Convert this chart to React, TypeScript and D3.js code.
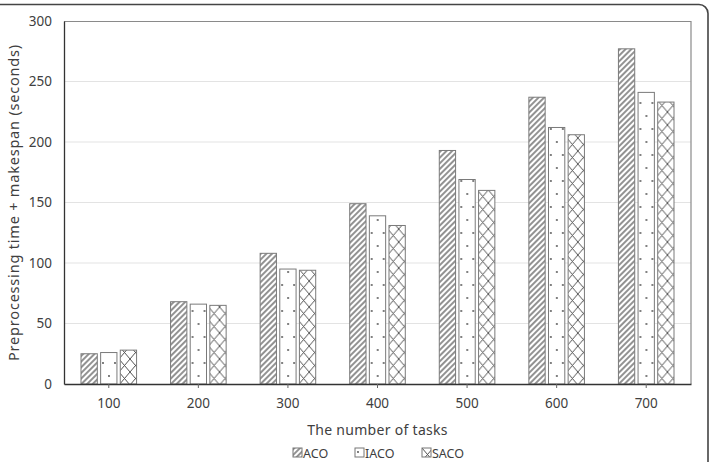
import React, { useEffect, useRef } from "react";
import * as d3 from "d3";

// task counts on the x axis
const categories = ["100", "200", "300", "400", "500", "600", "700"];
const seriesNames = ["ACO", "IACO", "SACO"];
const acoValues = [25, 68, 108, 149, 193, 237, 277];
const iacoValues = [26, 66, 95, 139, 169, 212, 241];
const sacoValues = [28, 65, 94, 131, 160, 206, 233];
const yTicks = [0, 50, 100, 150, 200, 250, 300];

const FONT = "'Noto Sans', 'Open Sans', sans-serif";
const TEXT = "#404040";

const App = () => {
  const ref = useRef<SVGSVGElement>(null);

  useEffect(() => {
    const W = 711;
    const H = 462;
    const margin = { top: 21, right: 20, bottom: 78, left: 64 };
    const width = W - margin.left - margin.right;
    const height = H - margin.top - margin.bottom;

    const svg = d3.select(ref.current);
    svg.selectAll("*").remove();

    // fill patterns for each series
    const defs = svg.append("defs");
    const diag = defs
      .append("pattern")
      .attr("id", "pat-aco")
      .attr("patternUnits", "userSpaceOnUse")
      .attr("width", 4)
      .attr("height", 4)
      .attr("patternTransform", "rotate(45)");
    diag.append("rect").attr("width", 4).attr("height", 4).attr("fill", "#fff");
    diag
      .append("line")
      .attr("x1", 1).attr("y1", 0).attr("x2", 1).attr("y2", 4)
      .attr("stroke", "#4a4a4a").attr("stroke-width", 1.2);

    const dots = defs
      .append("pattern")
      .attr("id", "pat-iaco")
      .attr("patternUnits", "userSpaceOnUse")
      .attr("width", 12)
      .attr("height", 26);
    dots.append("rect").attr("width", 12).attr("height", 26).attr("fill", "#fff");
    dots.append("circle").attr("cx", 3).attr("cy", 4).attr("r", 0.9).attr("fill", "#444");
    dots.append("circle").attr("cx", 9).attr("cy", 17).attr("r", 0.9).attr("fill", "#444");

    const cross = defs
      .append("pattern")
      .attr("id", "pat-saco")
      .attr("patternUnits", "userSpaceOnUse")
      .attr("width", 11)
      .attr("height", 13);
    cross.append("rect").attr("width", 11).attr("height", 13).attr("fill", "#fff");
    cross
      .append("path")
      .attr("d", "M0,0L11,13M11,0L0,13")
      .attr("stroke", "#555")
      .attr("stroke-width", 1)
      .attr("fill", "none");

    const fills = ["url(#pat-aco)", "url(#pat-iaco)", "url(#pat-saco)"];

    // chart frame
    svg
      .append("rect")
      .attr("x", -12)
      .attr("y", 4.5)
      .attr("width", 720)
      .attr("height", 480)
      .attr("rx", 9)
      .attr("fill", "#fff")
      .attr("stroke", "#444")
      .attr("stroke-width", 1.6);

    const g = svg
      .append("g")
      .attr("transform", `translate(${margin.left},${margin.top})`);

    const x = d3.scaleBand().domain(categories).range([0, width]).paddingInner(0).paddingOuter(0);
    const x1 = d3.scaleBand().domain(seriesNames).range([17, x.bandwidth() - 17]).paddingInner(0.17);
    const y = d3.scaleLinear().domain([0, 300]).range([height, 0]);

    // gridlines
    g.append("g")
      .selectAll("line")
      .data(yTicks.filter((t) => t > 0 && t < 300))
      .join("line")
      .attr("x1", 0)
      .attr("x2", width)
      .attr("y1", (d) => y(d))
      .attr("y2", (d) => y(d))
      .attr("stroke", "#e3e3e3")
      .attr("stroke-width", 1.2);

    // plot border (top & right)
    g.append("path")
      .attr("d", `M0,0.5H${width}V${height}`)
      .attr("fill", "none")
      .attr("stroke", "#8a8a8a")
      .attr("stroke-width", 1.2);

    const rows = categories.map((c, i) => ({
      cat: c,
      vals: [acoValues[i], iacoValues[i], sacoValues[i]],
    }));

    g.append("g")
      .selectAll("g")
      .data(rows)
      .join("g")
      .attr("transform", (d) => `translate(${x(d.cat)},0)`)
      .selectAll("rect")
      .data((d) => d.vals.map((v, k) => ({ key: seriesNames[k], v, k })))
      .join("rect")
      .attr("x", (d) => x1(d.key)!)
      .attr("y", (d) => y(d.v))
      .attr("width", x1.bandwidth())
      .attr("height", (d) => height - y(d.v))
      .attr("fill", (d) => fills[d.k])
      .attr("stroke", "#7a7a7a")
      .attr("stroke-width", 1);

    // y axis
    const yAxis = g
      .append("g")
      .call(d3.axisLeft(y).tickValues(yTicks).tickSize(0).tickPadding(12));
    yAxis.select(".domain").attr("stroke", "#333").attr("stroke-width", 1.3);
    yAxis
      .selectAll("text")
      .attr("font-family", FONT)
      .attr("font-size", 13.5)
      .attr("fill", TEXT);

    // x axis
    const xAxis = g
      .append("g")
      .attr("transform", `translate(0,${height})`)
      .call(d3.axisBottom(x).tickSize(4).tickSizeOuter(0).tickPadding(10));
    xAxis.select(".domain").attr("stroke", "#333").attr("stroke-width", 1.3);
    xAxis.selectAll(".tick line").attr("stroke", "#666");
    xAxis
      .selectAll("text")
      .attr("font-family", FONT)
      .attr("font-size", 13.5)
      .attr("fill", TEXT);

    // axis titles
    svg
      .append("text")
      .attr("x", margin.left + width / 2)
      .attr("y", 435)
      .attr("text-anchor", "middle")
      .attr("font-family", FONT)
      .attr("font-size", 14)
      .attr("letter-spacing", 0.3)
      .attr("fill", TEXT)
      .text("The number of tasks");

    svg
      .append("text")
      .attr("transform", `translate(19,${margin.top + height / 2}) rotate(-90)`)
      .attr("text-anchor", "middle")
      .attr("font-family", FONT)
      .attr("font-size", 14.5)
      .attr("letter-spacing", 0.8)
      .attr("fill", TEXT)
      .text("Preprocessing time + makespan (seconds)");

    // legend
    const legendX = [293, 355, 422];
    const legend = svg
      .append("g")
      .selectAll("g")
      .data(seriesNames)
      .join("g")
      .attr("transform", (d, i) => `translate(${legendX[i]},448)`);
    legend
      .append("rect")
      .attr("width", 9)
      .attr("height", 9)
      .attr("fill", (d, i) => fills[i])
      .attr("stroke", "#777")
      .attr("stroke-width", 1);
    legend
      .append("text")
      .attr("x", 10)
      .attr("y", 9.5)
      .attr("font-family", FONT)
      .attr("font-size", 12.5)
      .attr("fill", TEXT)
      .text((d) => d);
  }, []);

  return (
    <svg
      ref={ref}
      width={711}
      height={462}
      style={{ position: "absolute", left: 0, top: 0, background: "#fff" }}
    />
  );
};

export default App;
